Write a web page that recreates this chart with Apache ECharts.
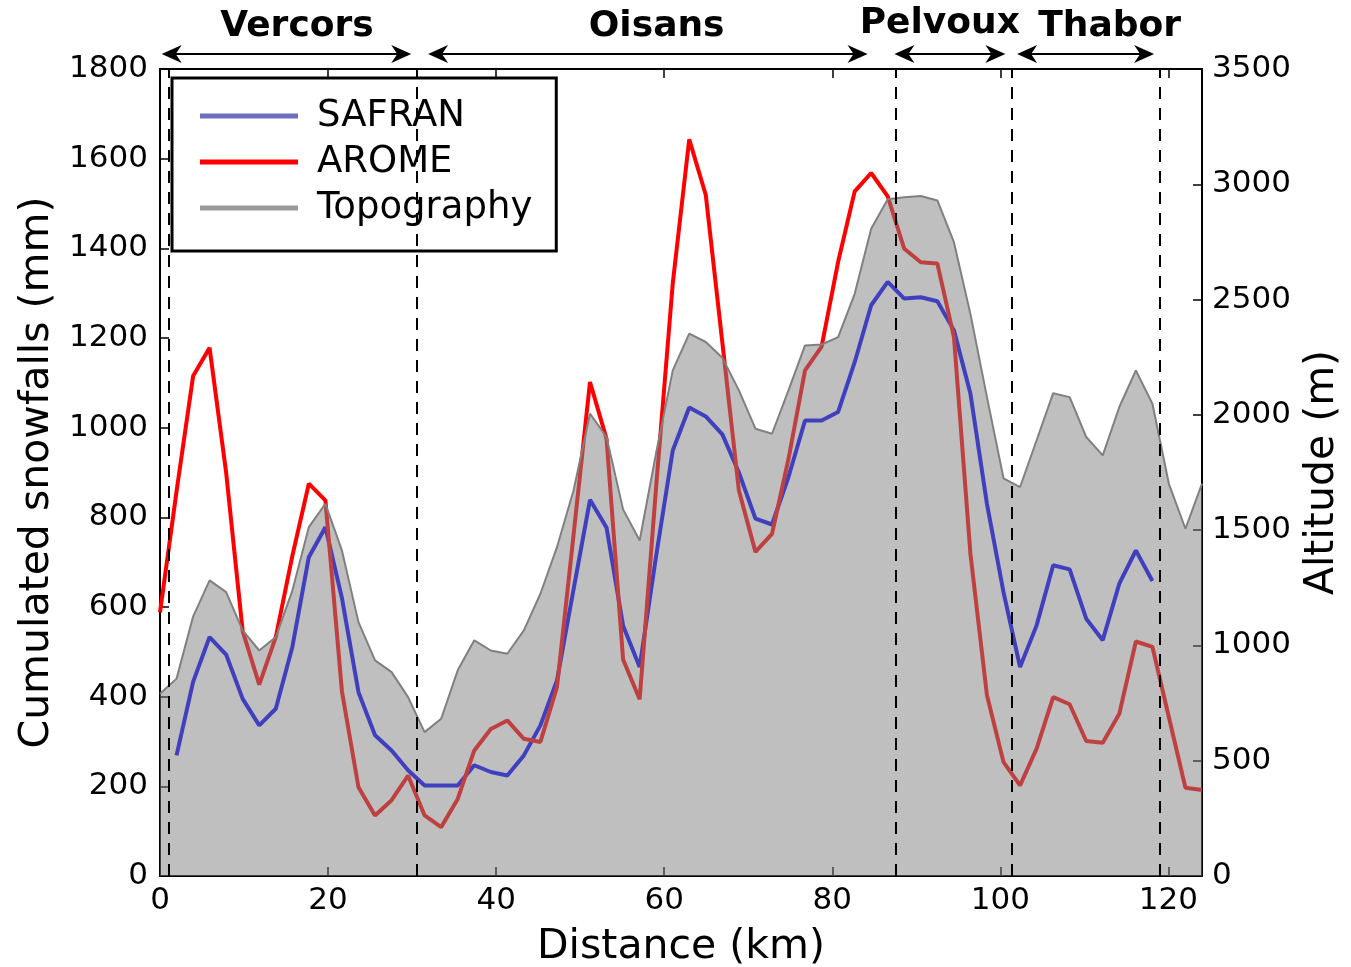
<!DOCTYPE html>
<html>
<head>
<meta charset="utf-8">
<script src="https://cdn.jsdelivr.net/npm/echarts@6/dist/echarts.min.js"></script>
<style>
  html, body { margin: 0; padding: 0; background: #fff; }
  #chart { width: 1351px; height: 967px; }
</style>
</head>
<body>
<div id="chart"></div>
<script>
// distance along the transect (km)
var distance = [0, 1.97, 3.94, 5.90, 7.87, 9.84, 11.81, 13.78, 15.75, 17.71, 19.68, 21.65, 23.62, 25.59, 27.56, 29.52,
    31.49, 33.46, 35.43, 37.40, 39.37, 41.33, 43.30, 45.27, 47.24, 49.21, 51.17, 53.14, 55.11, 57.08, 59.05, 61.02,
    62.98, 64.95, 66.92, 68.89, 70.86, 72.83, 74.79, 76.76, 78.73, 80.70, 82.67, 84.63, 86.60, 88.57, 90.54, 92.51,
    94.48, 96.44, 98.41, 100.38, 102.35, 104.32, 106.29, 108.25, 110.22, 112.19, 114.16, 116.13, 118.10, 120.06, 122.03, 124.00];

// altitude (m), right axis
var topography = [790, 856, 1125, 1282, 1231, 1065, 978, 1036, 1238, 1513, 1614, 1412, 1101, 935, 884, 776,
    624, 682, 892, 1022, 978, 964, 1065, 1224, 1426, 1672, 2005, 1904, 1590, 1455, 1837, 2193,
    2352, 2316, 2248, 2106, 1940, 1918, 2106, 2301, 2305, 2337, 2525, 2807, 2935, 2944, 2949, 2930,
    2749, 2438, 2077, 1725, 1687, 1890, 2094, 2077, 1904, 1824, 2034, 2193, 2048, 1701, 1506, 1702];

// cumulated snowfalls (mm), left axis
var safran = [null, 269, 433, 533, 494, 395, 336, 373, 511, 711, 778, 620, 410, 314, 280, 236,
    202, 202, 202, 247, 232, 224, 269, 336, 436, 639, 839, 777, 558, 466, 715, 949,
    1045, 1025, 985, 900, 797, 784, 890, 1016, 1016, 1035, 1146, 1273, 1325, 1288, 1291, 1282,
    1217, 1076, 830, 633, 466, 559, 693, 684, 574, 526, 652, 726, 658, null, null, null];

var arome = [588, 858, 1115, 1178, 900, 546, 427, 533, 714, 875, 838, 412, 198, 135, 169, 224,
    135, 109, 172, 280, 328, 347, 306, 299, 421, 760, 1102, 975, 483, 394, 870, 1322,
    1643, 1519, 1190, 860, 723, 763, 930, 1128, 1181, 1370, 1527, 1568, 1516, 1399, 1369, 1366,
    1202, 719, 403, 254, 202, 284, 399, 383, 301, 297, 362, 523, 511, 354, 197, 192];

// massif limits (km) and annotation arrows
var boundaries = [1.0, 30.5, 87.6, 101.4, 119.0];
var regionNames = ['Vercors', 'Oisans', 'Pelvoux', 'Thabor'];
var regionStart = [0.2, 31.9, 87.4, 102.0];
var regionEnd = [29.9, 84.2, 100.6, 118.3];
var regionLabelKm = [16.3, 59.1, 92.8, 113.0];

var FONT = 'DejaVu Sans';

function pairs(values) {
    return distance.map(function (d, i) { return [d, values[i]]; });
}

function plain(v) { return String(v); }

var axisLine = { show: true, onZero: false, lineStyle: { color: '#000', width: 2 } };
var axisTick = { show: true, inside: true, length: 9, lineStyle: { color: '#000', width: 1.5 } };

var chart = echarts.init(document.getElementById('chart'), null, { renderer: 'canvas' });

var option = {
    animation: false,
    backgroundColor: '#fff',
    textStyle: { fontFamily: FONT },
    grid: { left: 160, right: 149, top: 69, bottom: 91, containLabel: false, outerBoundsMode: 'none' },
    legend: {
        orient: 'vertical',
        left: 172,
        top: 78,
        padding: [17, 24, 22, 28],
        itemGap: 4,
        itemWidth: 98,
        itemHeight: 5,
        icon: 'rect',
        borderColor: '#000',
        borderWidth: 3,
        backgroundColor: '#fff',
        textStyle: { fontFamily: FONT, fontSize: 37, color: '#000', lineHeight: 42, padding: [0, 0, 0, 14] },
        data: [
            { name: 'SAFRAN', itemStyle: { color: '#6e6ebf' } },
            { name: 'AROME', itemStyle: { color: '#ff0000' } },
            { name: 'Topography', itemStyle: { color: '#999999' } }
        ]
    },
    xAxis: [{
        type: 'value',
        position: 'bottom',
        min: 0, max: 124, interval: 20,
        axisLine: axisLine,
        axisTick: axisTick,
        splitLine: { show: false },
        axisLabel: {
            fontFamily: FONT, fontSize: 31, color: '#000', margin: 9,
            formatter: function (v) { return v % 20 === 0 ? String(v) : ''; }
        },
        name: 'Distance (km)',
        nameLocation: 'middle',
        nameGap: 51,
        nameTextStyle: { fontFamily: FONT, fontSize: 41, color: '#000' }
    }, {
        type: 'value',
        position: 'top',
        min: 0, max: 124, interval: 20,
        axisLine: axisLine,
        axisTick: axisTick,
        splitLine: { show: false },
        axisLabel: { show: false }
    }],
    yAxis: [{
        type: 'value',
        position: 'left',
        min: 0, max: 1800, interval: 200,
        axisLine: axisLine,
        axisTick: axisTick,
        splitLine: { show: false },
        axisLabel: { fontFamily: FONT, fontSize: 31, color: '#000', margin: 12, formatter: plain },
        name: 'Cumulated snowfalls (mm)',
        nameLocation: 'middle',
        nameRotate: 90,
        nameGap: 88,
        nameTextStyle: { fontFamily: FONT, fontSize: 41, color: '#000' }
    }, {
        type: 'value',
        position: 'right',
        min: 0, max: 3500, interval: 500,
        axisLine: axisLine,
        axisTick: axisTick,
        splitLine: { show: false },
        axisLabel: { fontFamily: FONT, fontSize: 31, color: '#000', margin: 10, formatter: plain },
        name: 'Altitude (m)',
        nameLocation: 'middle',
        nameRotate: 90,
        nameGap: 96,
        nameTextStyle: { fontFamily: FONT, fontSize: 41, color: '#000' }
    }],
    series: [{
        name: 'SAFRAN',
        type: 'line',
        yAxisIndex: 0,
        data: pairs(safran),
        symbol: 'none',
        lineStyle: { color: '#0000ff', width: 4 },
        itemStyle: { color: '#0000ff' },
        z: 2
    }, {
        name: 'AROME',
        type: 'line',
        yAxisIndex: 0,
        data: pairs(arome),
        symbol: 'none',
        lineStyle: { color: '#ff0000', width: 4 },
        itemStyle: { color: '#ff0000' },
        z: 2
    }, {
        // semi transparent fill drawn over the snow curves
        name: 'Topography',
        type: 'line',
        yAxisIndex: 1,
        data: pairs(topography),
        symbol: 'none',
        lineStyle: { color: '#808080', width: 2 },
        itemStyle: { color: '#808080' },
        areaStyle: { color: '#808080', opacity: 0.5 },
        z: 3,
        markLine: {
            silent: true,
            symbol: 'none',
            z: 6,
            label: { show: false },
            lineStyle: { color: '#000', type: [12, 9], width: 2 },
            data: boundaries.map(function (v) { return { xAxis: v }; })
        }
    }]
};

chart.setOption(option);

// massif names with double arrows above the plot
var arrowY = 54, headLen = 20, headHalf = 9, notch = 6;
var graphics = [];
regionNames.forEach(function (name, i) {
    var x1 = chart.convertToPixel({ xAxisIndex: 0 }, regionStart[i]);
    var x2 = chart.convertToPixel({ xAxisIndex: 0 }, regionEnd[i]);
    var xc = chart.convertToPixel({ xAxisIndex: 0 }, regionLabelKm[i]);
    graphics.push({
        type: 'line',
        shape: { x1: x1 + notch, y1: arrowY, x2: x2 - notch, y2: arrowY },
        style: { stroke: '#000', lineWidth: 2 }
    });
    graphics.push({
        type: 'polygon',
        shape: { points: [[x1, arrowY], [x1 + headLen, arrowY - headHalf], [x1 + headLen - notch, arrowY], [x1 + headLen, arrowY + headHalf]] },
        style: { fill: '#000' }
    });
    graphics.push({
        type: 'polygon',
        shape: { points: [[x2, arrowY], [x2 - headLen, arrowY - headHalf], [x2 - headLen + notch, arrowY], [x2 - headLen, arrowY + headHalf]] },
        style: { fill: '#000' }
    });
    graphics.push({
        type: 'text',
        x: xc,
        y: name === 'Pelvoux' ? 24 : 27,
        style: {
            text: name,
            fill: '#000',
            font: 'bold 36px "DejaVu Sans"',
            textAlign: 'center',
            textVerticalAlign: 'middle'
        }
    });
});
chart.setOption({ graphic: graphics });
</script>
</body>
</html>
